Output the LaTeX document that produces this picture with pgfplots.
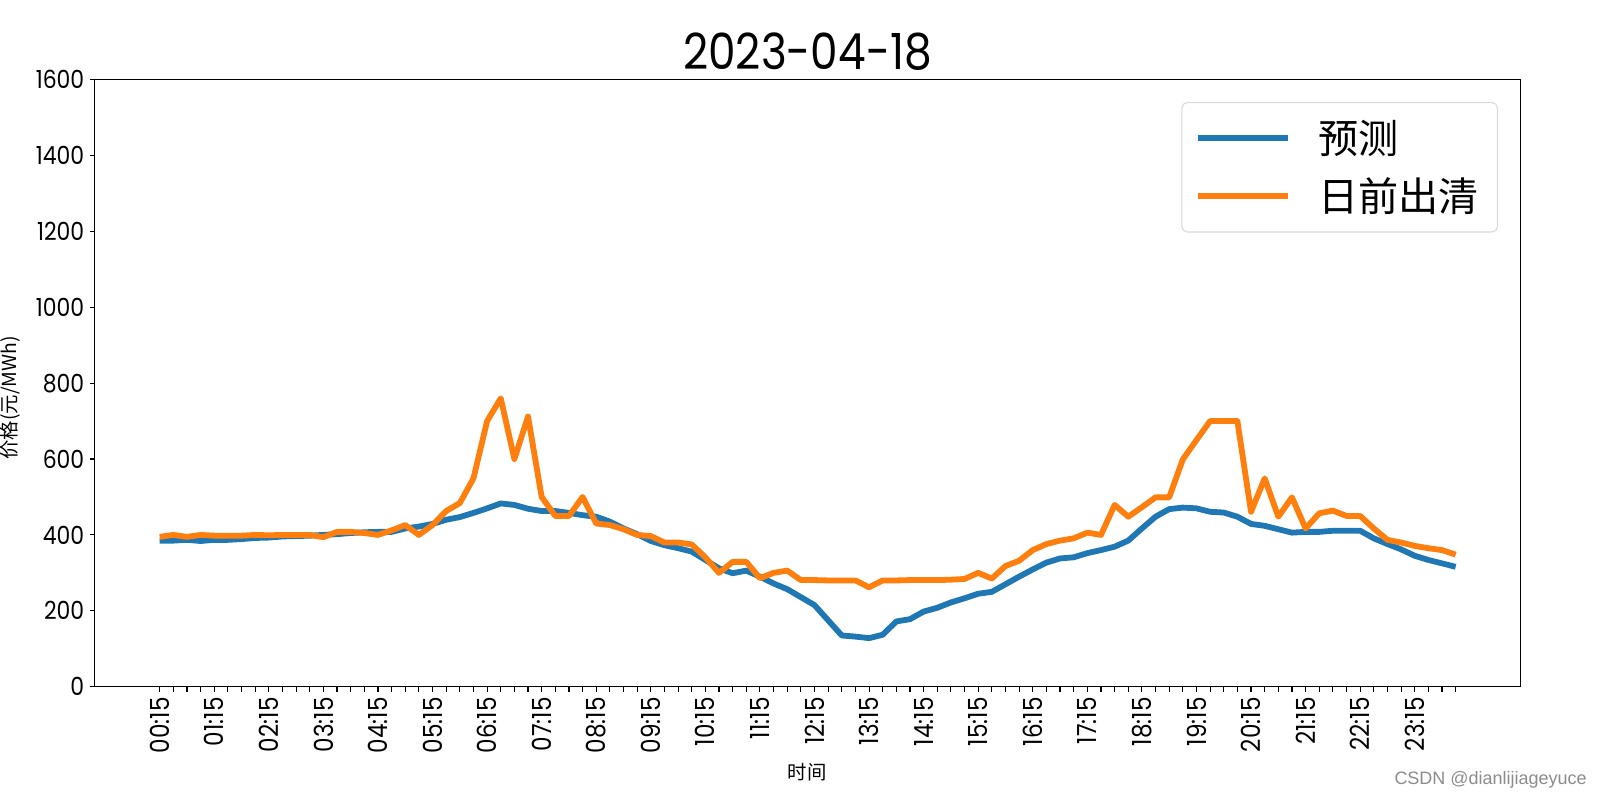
\documentclass[border=0pt]{standalone}
\usepackage{fontspec}
\setmainfont{Poppins}[FakeStretch=0.88]
\newfontfamily\cjk{Noto Sans CJK SC}
\newfontfamily\wm{Liberation Sans}
\usepackage{pgfplots}
\usepackage{pgfplotstable}
\pgfplotsset{compat=1.18}
\definecolor{tabblue}{HTML}{1F77B4}
\definecolor{taborange}{HTML}{FF7F0E}
\pgfplotstableread{
i pred clear
0 385 395
1 385 400
2 387 395
3 384 400
4 387 398
5 387 398
6 389 398
7 392 400
8 393 399
9 396 400
10 397 400
11 398 400
12 400 394
13 402 408
14 405 408
15 407 405
16 408 400
17 408 412
18 417 426
19 422 400
20 429 426
21 440 463
22 447 484
23 458 549
24 470 700
25 483 760
26 479 600
27 469 712
28 463 500
29 463 450
30 458 450
31 452 500
32 448 430
33 435 426
34 417 415
35 402 400
36 384 397
37 373 380
38 365 380
39 356 375
40 334 341
41 312 300
42 299 329
43 306 329
44 290 286
45 272 300
46 257 306
47 236 281
48 215 281
49 175 280
50 135 280
51 132 280
52 128 262
53 137 280
54 172 280
55 178 281
56 198 281
57 208 281
58 222 282
59 233 284
60 245 300
61 250 285
62 270 318
63 290 332
64 309 360
65 327 376
66 338 385
67 341 391
68 352 406
69 360 400
70 369 479
71 385 448
72 417 473
73 448 499
74 468 499
75 472 599
76 470 650
77 461 700
78 459 700
79 448 700
80 429 461
81 424 549
82 415 448
83 406 499
84 408 417
85 408 457
86 411 464
87 411 450
88 411 450
89 391 417
90 376 387
91 362 380
92 345 371
93 334 365
94 325 360
95 316 348
}\datatable
\begin{document}
\begin{tikzpicture}
\path[use as bounding box] (0,0) rectangle (16in,8in);
\begin{axis}[
  at={(0.949in,1.133in)}, anchor=south west,
  scale only axis, width=14.255in, height=6.071in,
  xmin=-4.75, xmax=99.75, ymin=0, ymax=1600,
  xtick={0,4,...,92},
  xticklabels={00:15,01:15,02:15,03:15,04:15,05:15,06:15,07:15,08:15,09:15,10:15,11:15,12:15,13:15,14:15,15:15,16:15,17:15,18:15,19:15,20:15,21:15,22:15,23:15},
  minor xtick={0,1,...,95},
  ytick={0,200,...,1600},
  xtick pos=bottom, ytick pos=left,
  tick align=outside,
  major tick length=3.5pt, minor tick length=3.5pt,
  every tick/.style={black, line width=0.8pt},
  every minor tick/.style={black, line width=0.8pt},
  axis line style={line width=0.8pt},
  xticklabel shift=4pt, yticklabel shift=4pt,
  xticklabel style={rotate=90, anchor=east, inner sep=0pt, font=\fontsize{19}{19}\selectfont},
  yticklabel style={inner sep=0pt, font=\fontsize{18}{18}\selectfont},
  /pgf/number format/assume math mode=true,
  /pgf/number format/1000 sep={},
  legend style={at={(0.9843,0.9631)}, anchor=north east, draw=black!15, line width=0.8pt,
    rounded corners=4pt, fill=white, font=\cjk\fontsize{29}{29}\selectfont,
    inner xsep=9.5pt, inner ysep=13pt, row sep=16pt, nodes={inner sep=0pt, inner xsep=4pt},
    /tikz/every odd column/.append style={column sep=0.22in}},
  legend cell align=left,
  legend image code/.code={\draw[#1] (0in,0in) -- (0.9in,0in);},
]
\addplot[tabblue, line width=4.2pt, line join=round] table[x=i, y=pred] {\datatable};
\addlegendentry{预测}
\addplot[taborange, line width=4.2pt, line join=round] table[x=i, y=clear] {\datatable};
\addlegendentry{日前出清}
\end{axis}
\node[anchor=base, font=\fontsize{36}{36}\selectfont] at (8.075in,7.306in) {2023-04-18};
\node[font=\cjk\fontsize{14}{14}\selectfont] at (8.07in,0.28in) {时间};
\node[rotate=90, font=\cjk\fontsize{14}{14}\selectfont] at (0.10in,4.02in) {价格(元/MWh)};
\node[anchor=base east, text=black!45, font=\wm\fontsize{13}{13}\selectfont, inner sep=0pt] at (15.87in,0.16in) {CSDN @dianlijiageyuce};
\end{tikzpicture}
\end{document}
